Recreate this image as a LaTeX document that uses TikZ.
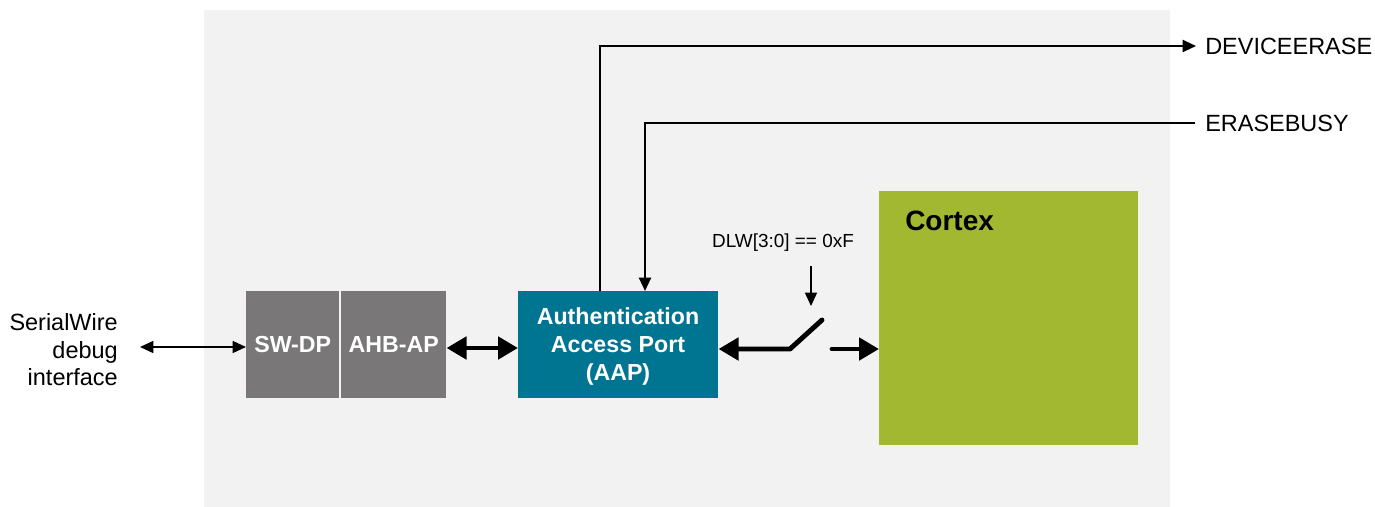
\documentclass[tikz,border=0pt]{standalone}
\usepackage{fontspec}
\setmainfont{Liberation Sans}
\usetikzlibrary{arrows.meta}
\definecolor{bggrey}{HTML}{F2F2F2}
\definecolor{boxgrey}{HTML}{797777}
\definecolor{aapteal}{HTML}{007592}
\definecolor{cortexgreen}{HTML}{A2B830}
\begin{document}
\begin{tikzpicture}[x=0.75pt,y=-0.75pt,
  lbl/.style={inner sep=0pt, font=\fontsize{17.6}{20.6}\selectfont},
  blk/.style={draw=none, inner sep=0pt, text=white, font=\fontsize{17.4}{21}\selectfont\bfseries, align=center},
  thin/.style={line width=1.1pt, {Triangle[length=10pt,width=9pt]}-{Triangle[length=10pt,width=9pt]}},
  thick/.style={line width=3.7pt},
  bt/.tip={Triangle[length=15pt,width=16.5pt]},
  st/.tip={Triangle[length=10pt,width=9pt]},
  wire/.style={line width=1.6pt}
]
\useasboundingbox (0,0) rectangle (1375,507);
\fill[bggrey] (204,10) rectangle (1170,507);
% blocks
\node[blk, fill=boxgrey, minimum width=93*0.75pt, minimum height=107*0.75pt, anchor=north west] (swdp) at (246,291) {SW-DP};
\node[blk, fill=boxgrey, minimum width=105*0.75pt, minimum height=107*0.75pt, anchor=north west] (ahbap) at (341,291) {AHB-AP};
\node[blk, fill=aapteal, minimum width=200*0.75pt, minimum height=107*0.75pt, anchor=north west] (aap) at (518,291) {};
\node[blk, anchor=center] (aaptext) at (618,346) {Authentication\\Access Port\\(AAP)};
\node[fill=cortexgreen, minimum width=259*0.75pt, minimum height=254*0.75pt, inner sep=0pt, anchor=north west] (cortex) at (879,191) {};
\node[inner sep=0pt, anchor=base west, font=\fontsize{21}{25}\selectfont\bfseries] (cortexlbl) at (905,230) {Cortex};
% left label
\node[lbl, align=right, anchor=east] (sw) at (118,350) {SerialWire\\debug\\interface};
\draw[thin] (140,347) -- (swdp.west |- 0,347);
% thick AHB-AAP
\draw[thick, bt-bt] (ahbap.east |- 0,348) -- (aap.west |- 0,348);
% DEVICEERASE
\node[lbl, anchor=west] (dev) at (1205,46) {DEVICEERASE};
\coordinate (devc) at (600,46);
\coordinate (deve) at (1196,46);
\draw[wire, -st] (aap.north -| devc) -- (devc) -- (deve);
% ERASEBUSY
\node[lbl, anchor=west] (eb) at (1205,123) {ERASEBUSY};
\coordinate (ebc) at (645,123);
\coordinate (ebs) at (1195,123);
\draw[wire, -st] (ebs) -- (ebc) -- (aap.north -| ebc);
% switch
\node[inner sep=0pt, font=\fontsize{14.2}{17}\selectfont] (dlw) at (783,243) {DLW[3:0] == 0xF};
\coordinate (dlwe) at (811,306);
\draw[line width=1.1pt, -st] (811,266) -- (dlwe);
\coordinate (blade) at (822,320);
\coordinate (pivot) at (790,349);
\draw[thick, line cap=round, line join=round, -bt] (blade) -- (pivot) -- (aap.east |- pivot);
\coordinate (sout) at (832,349);
\draw[thick, line cap=round, -bt] (sout) -- (cortex.west |- sout);
\end{tikzpicture}
\end{document}
